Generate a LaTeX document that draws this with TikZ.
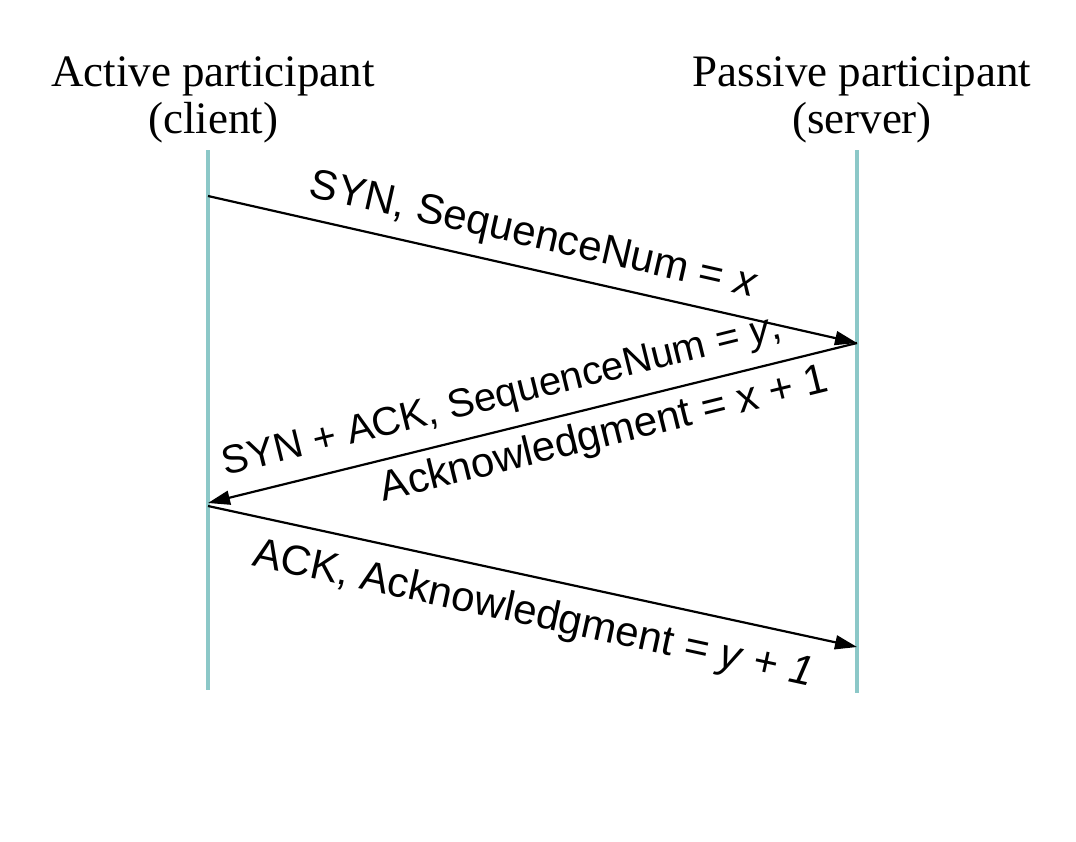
\documentclass[tikz,border=0pt]{standalone}
\usepackage{fontspec}
\setmainfont{Liberation Serif}
\setsansfont{Liberation Sans}
\usetikzlibrary{arrows.meta}
\definecolor{lifelinecol}{RGB}{140,200,200}
\begin{document}
\begin{tikzpicture}[x=1pt,y=-1pt,
  title/.style={align=center,font=\fontsize{45}{47}\selectfont,inner sep=0pt,anchor=north},
  lifeline/.style={draw=lifelinecol,line width=4pt},
  msg/.style={draw=black,line width=2.2pt,-{Triangle[length=22pt,width=14pt]}},
  lbl/.style={font=\sffamily\fontsize{42}{46}\selectfont,sloped,inner sep=0pt}]
\useasboundingbox[fill=white] (0,0) rectangle (1076,841);
\node[title] (client) at (213,57) {Active participant\\(client)};
\node[title] (server) at (862,57) {Passive participant\\(server)};
\coordinate (ltop) at (208,150);
\coordinate (lbot) at (208,690);
\coordinate (rtop) at (857,150);
\coordinate (rbot) at (857,693);
\draw[lifeline] (ltop) -- (lbot);
\draw[lifeline] (rtop) -- (rbot);
\coordinate (c1) at (208,196);
\coordinate (s1) at (857,343);
\coordinate (c2) at (208,503);
\coordinate (c3) at (208,506);
\coordinate (s3) at (857,647);
\draw[msg] (c1) -- node[lbl,above=12pt,pos=0.49] (l1) {SYN, SequenceNum = \textit{x}} (s1);
\draw[msg] (s1) -- node[lbl,above=13pt,pos=0.535,font=\sffamily\fontsize{40}{44}\selectfont] (l2a) {SYN + ACK, SequenceNum = \textit{y},}
                   node[lbl,below=9pt,pos=0.40] (l2b) {Acknowledgment = x + 1} (c2);
\draw[msg] (c3) -- node[lbl,below=17pt,pos=0.513] (l3) {ACK, Acknowledgment = \textit{y} + \textit{1}} (s3);
\end{tikzpicture}
\end{document}
